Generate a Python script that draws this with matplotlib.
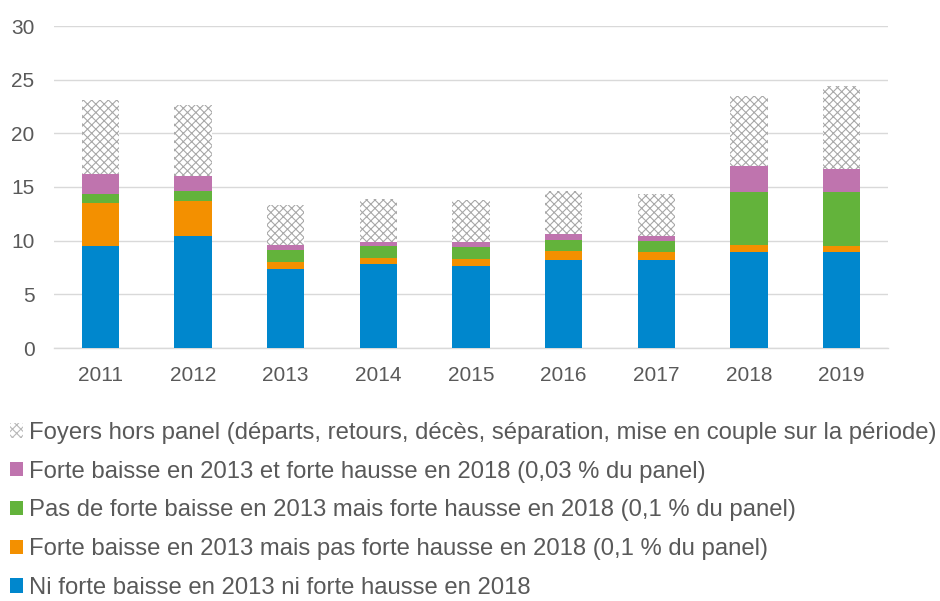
import numpy as np
import matplotlib
matplotlib.use("Agg")
import matplotlib.pyplot as plt
from matplotlib.patches import Patch

plt.rcParams['font.family'] = ['Liberation Sans', 'DejaVu Sans']
plt.rcParams['hatch.linewidth'] = 0.8

years = ["2011", "2012", "2013", "2014", "2015", "2016", "2017", "2018", "2019"]

ni_baisse_ni_hausse = [9.5, 10.4, 7.4, 7.8, 7.65, 8.2, 8.2, 8.9, 8.9]
baisse_pas_hausse = [4.0, 3.25, 0.65, 0.6, 0.65, 0.8, 0.7, 0.65, 0.6]
pas_baisse_hausse = [0.85, 0.95, 1.1, 1.1, 1.1, 1.1, 1.1, 5.0, 5.0]
baisse_et_hausse = [1.85, 1.45, 0.4, 0.4, 0.5, 0.53, 0.45, 2.45, 2.2]
hors_panel = [6.9, 6.6, 3.8, 3.95, 3.85, 3.98, 3.9, 6.5, 7.7]

labels = [
    "Ni forte baisse en 2013 ni forte hausse en 2018",
    "Forte baisse en 2013 mais pas forte hausse en 2018 (0,1 % du panel)",
    "Pas de forte baisse en 2013 mais forte hausse en 2018 (0,1 % du panel)",
    "Forte baisse en 2013 et forte hausse en 2018 (0,03 % du panel)",
    "Foyers hors panel (départs, retours, décès, séparation, mise en couple sur la période)",
]
colors = ["#0087cd", "#f39000", "#63b33b", "#bf74ae", "white"]

series = [ni_baisse_ni_hausse, baisse_pas_hausse, pas_baisse_hausse,
          baisse_et_hausse, hors_panel]

fig = plt.figure(figsize=(9.4, 6.01), dpi=100)
ax = fig.add_axes([54 / 940, 1 - 348 / 601, 834 / 940, 322 / 601])

x = np.arange(len(years))
bottom = np.zeros(len(years))
handles = []
for vals, col, lab in zip(series, colors, labels):
    if col == "white":
        ax.bar(x, vals, 0.4, bottom=bottom, color="white", edgecolor="#a8a8a8",
               hatch="xxxx", linewidth=0, zorder=3)
        handles.append(Patch(facecolor="white", edgecolor="#b8b8b8", hatch="xxxx",
                             linewidth=0, label=lab))
    else:
        ax.bar(x, vals, 0.4, bottom=bottom, color=col, linewidth=0, zorder=3)
        handles.append(Patch(facecolor=col, linewidth=0, label=lab))
    bottom += np.array(vals)

ax.set_xlim(-0.5, len(years) - 0.5)
ax.set_ylim(0, 30)
ax.set_yticks(range(0, 31, 5))
ax.set_xticks(x)
ax.set_xticklabels(years)
ax.yaxis.grid(True, color="#d9d9d9", linewidth=1)
ax.set_axisbelow(True)
for s in ["top", "right", "left"]:
    ax.spines[s].set_visible(False)
ax.spines["bottom"].set_color("#d9d9d9")
ax.spines["bottom"].set_linewidth(1)
ax.tick_params(length=0, labelsize=15, colors="#595959")
ax.tick_params(axis="x", pad=13)
ax.tick_params(axis="y", pad=14)

leg = fig.legend(handles[::-1], labels[::-1], loc="upper left",
                 bbox_to_anchor=(0.011, 1 - 422 / 601), frameon=False,
                 fontsize=17.2, handlelength=0.55, handleheight=0.55,
                 handletextpad=0.25, labelspacing=0.7, borderpad=0,
                 borderaxespad=0)
for t in leg.get_texts():
    t.set_color("#595959")

fig.savefig("out.png", dpi=100)
